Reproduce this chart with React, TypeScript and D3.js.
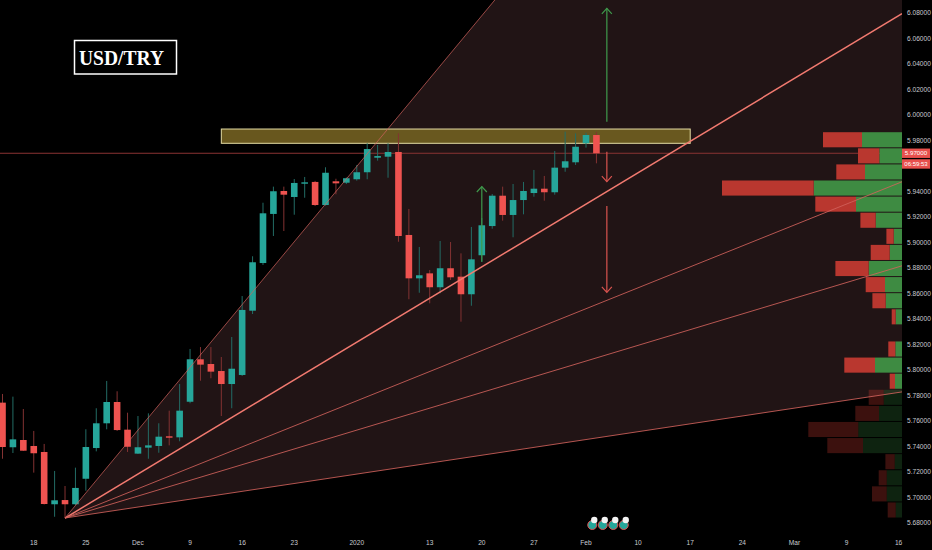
import React, { useEffect } from "react";
import * as d3 from "d3";

const W = 932;
const H = 550;
const PLOT_RIGHT = 902;
const PLOT_BOTTOM = 530;

// daily candles, one per trading day from Nov 13 2019 to Feb 4 2020
const opens = [5.7744, 5.7394, 5.7451, 5.7404, 5.7357, 5.6947, 5.698, 5.6947, 5.7147, 5.7388,
  5.7582, 5.7749, 5.7532, 5.7344, 5.7391, 5.7404, 5.748, 5.7472, 5.7751, 5.8084,
  5.8047, 5.7992, 5.789, 5.7961, 5.8465, 5.8839, 5.9224, 5.9404, 5.9357, 5.9461,
  5.9475, 5.9294, 5.948, 5.9469, 5.9496, 5.9551, 5.9665, 5.9673, 5.971, 5.9059,
  5.8719, 5.8758, 5.8649, 5.8798, 5.8732, 5.8594, 5.89, 5.9129, 5.9367, 5.9216,
  5.9333, 5.9388, 5.9422, 5.9394, 5.9587, 5.9629, 5.9778, 5.9843];
const highs = [5.7812, 5.7791, 5.7694, 5.7522, 5.742, 5.7208, 5.709, 5.7234, 5.7535, 5.77,
  5.7914, 5.7833, 5.7665, 5.7639, 5.766, 5.7582, 5.7681, 5.789, 5.8165, 5.818,
  5.818, 5.8102, 5.8259, 5.858, 5.8892, 5.9312, 5.9438, 5.9438, 5.9498, 5.9514,
  5.9483, 5.959, 5.95, 5.951, 5.9608, 5.9778, 5.9765, 5.9778, 5.9856, 5.9263,
  5.8965, 5.8784, 5.9012, 5.9004, 5.8915, 5.9122, 5.9192, 5.938, 5.9438, 5.9459,
  5.9475, 5.9569, 5.9522, 5.9718, 5.9869, 5.9856, 5.9861, 5.9867];
const lows = [5.7304, 5.7349, 5.7365, 5.7195, 5.6945, 5.6849, 5.6839, 5.6941, 5.7053, 5.7362,
  5.7535, 5.7522, 5.7357, 5.7341, 5.7304, 5.7351, 5.7409, 5.7441, 5.7739, 5.7916,
  5.7935, 5.7639, 5.77, 5.7953, 5.8439, 5.8824, 5.9051, 5.909, 5.9218, 5.9351,
  5.9286, 5.9289, 5.9378, 5.9459, 5.9485, 5.9496, 5.9642, 5.9508, 5.9006, 5.8555,
  5.8606, 5.8523, 5.8602, 5.8706, 5.8379, 5.8504, 5.8847, 5.9108, 5.9171, 5.9041,
  5.9221, 5.9359, 5.9328, 5.9375, 5.9555, 5.9608, 5.9744, 5.9621];
const closes = [5.7396, 5.7456, 5.7367, 5.7347, 5.6949, 5.6978, 5.6947, 5.7075, 5.7396, 5.7582,
  5.7749, 5.7529, 5.7398, 5.7394, 5.7409, 5.7477, 5.7469, 5.7681, 5.8084, 5.8042,
  5.7987, 5.789, 5.801, 5.8471, 5.8845, 5.9229, 5.9402, 5.9375, 5.9467, 5.9472,
  5.9294, 5.9547, 5.9464, 5.9504, 5.9551, 5.9733, 5.9678, 5.971, 5.9051, 5.8719,
  5.8743, 5.8649, 5.8798, 5.8727, 5.8594, 5.8868, 5.9135, 5.9367, 5.9216, 5.9333,
  5.9404, 5.9422, 5.9394, 5.9587, 5.9637, 5.9751, 5.9843, 5.97];

// time axis (bar index of each label)
const dateTickBars = [3, 8, 13, 18, 23, 28, 34, 41, 46, 51, 56, 61, 66, 71, 76, 81, 86];
const dateTickLabels = ["18", "25", "Dec", "9", "16", "23", "2020", "13", "20", "27", "Feb", "10", "17", "24", "Mar", "9", "16"];

const priceTicks = [5.68, 5.7, 5.72, 5.74, 5.76, 5.78, 5.8, 5.82, 5.84, 5.86, 5.88, 5.9, 5.92, 5.94, 5.96, 5.98, 6.0, 6.02, 6.04, 6.06, 6.08];

// visible range volume profile, top row first
const profileHigh = 5.9869;
const profileLow = 5.6839;
const profileUp = [40, 22.7, 37, 88.3, 46, 26.3, 8.3, 12.3, 33.3, 17, 16.3, 6.3, 0, 6.7, 27, 7, 18.3, 23, 43.7, 39, 7.3, 15.3, 15.3, 6.3];
const profileDown = [39, 21.3, 28.7, 91.7, 40.7, 15.3, 7.3, 19, 33.3, 19.3, 13.3, 4, 0, 7, 30.7, 5.3, 15, 23.7, 50, 35.7, 9.3, 8, 14.7, 8];
const profileBrightRows = 16;

// gann fan
const fanAnchorBar = 6;
const fanAnchorPrice = 5.6839;
const fanStep = 0.00985;
const fanRatios = [1, 2, 3, 4, 8];

// resistance zone
const zoneBars = [21, 66];
const zonePrices = [5.9778, 5.989];

const lastPrice = 5.97;
const countdown = "06:59:53";

// drawn arrows
const arrowBars = [46, 58, 58, 58];
const arrowFrom = [5.8849, 5.9947, 5.9712, 5.9286];
const arrowTo = [5.9439, 6.0837, 5.9477, 5.8609];
const arrowColors = ["#3f9a4c", "#3f9a4c", "#d9534f", "#d9534f"];

const x = d3.scaleLinear().domain([0, 86]).range([2.5, 898.6]);
const y = d3.scaleLinear().domain([5.68, 6.08]).range([523, 13]);
const vol = d3.scaleLinear().domain([0, 180]).range([0, 180]);

const UP = "#26a69a";
const DOWN = "#ef5350";
const FONT = "'Liberation Sans', Arial, sans-serif";

function fanPrice(bar: number, ratio: number) {
  return fanAnchorPrice + ((bar - fanAnchorBar) * fanStep) / ratio;
}

export default function App() {
  useEffect(() => {
    document.body.style.margin = "0";
    document.body.style.background = "#000";
  }, []);

  const rightBar = x.invert(PLOT_RIGHT);
  const ax = x(fanAnchorBar);
  const ay = y(fanAnchorPrice);
  const fillPts = [
    [ax, ay],
    [PLOT_RIGHT, y(fanPrice(rightBar, fanRatios[0]))],
    [PLOT_RIGHT, y(fanPrice(rightBar, fanRatios[fanRatios.length - 1]))],
  ];

  const pTop = y(profileHigh);
  const rowH = (y(profileLow) - pTop) / profileUp.length;
  const lastY = y(lastPrice);
  // price labels hidden behind the last-price / countdown badges
  const visibleTicks = priceTicks.filter((p) => y(p) < lastY - 8 || y(p) > lastY + 18);

  return (
    <svg width={W} height={H} style={{ position: "absolute", left: 0, top: 0, background: "#000" }}>
      <defs>
        <clipPath id="plot">
          <rect x={0} y={0} width={PLOT_RIGHT} height={PLOT_BOTTOM} />
        </clipPath>
      </defs>
      <rect x={0} y={0} width={W} height={H} fill="#000" />
      <g clipPath="url(#plot)">
        <polygon points={fillPts.map((p) => p.join(",")).join(" ")} fill="#211415" />

        {/* last price line */}
        <line x1={0} x2={PLOT_RIGHT} y1={lastY} y2={lastY} stroke="#8a3333" strokeWidth={1} />

        {/* zone */}
        <rect
          x={x(zoneBars[0])}
          y={y(zonePrices[1])}
          width={x(zoneBars[1]) - x(zoneBars[0])}
          height={y(zonePrices[0]) - y(zonePrices[1])}
          fill="#6e5c20"
          fillOpacity={0.95}
          stroke="#e3dba4"
          strokeWidth={1}
        />

        {/* candles */}
        {opens.map((o, i) => {
          const c = closes[i];
          const up = c >= o;
          const cx = x(i);
          const top = y(Math.max(o, c));
          const bot = y(Math.min(o, c));
          return (
            <g key={i}>
              <line x1={cx} x2={cx} y1={y(highs[i])} y2={y(lows[i])} stroke={up ? "#236c65" : "#833232"} strokeWidth={1} />
              <rect x={cx - 3.3} y={top} width={6.6} height={Math.max(1.2, bot - top)} fill={up ? UP : DOWN} />
            </g>
          );
        })}

        {/* volume profile */}
        {profileUp.map((u, i) => {
          const d = profileDown[i];
          const bright = i < profileBrightRows;
          const ry = pTop + i * rowH + 0.5;
          const gw = vol(u);
          const rw = vol(d);
          return (
            <g key={"vp" + i}>
              <rect x={PLOT_RIGHT - gw} y={ry} width={gw} height={rowH - 1} fill={bright ? "#3e8b42" : "rgba(50,130,60,0.27)"} />
              <rect x={PLOT_RIGHT - gw - rw} y={ry} width={rw} height={rowH - 1} fill={bright ? "#b9372f" : "rgba(200,55,45,0.3)"} />
            </g>
          );
        })}

        {/* fan lines */}
        {fanRatios.map((r, i) => (
          <line
            key={"fan" + r}
            x1={ax}
            y1={ay}
            x2={PLOT_RIGHT}
            y2={y(fanPrice(rightBar, r))}
            stroke={r === 2 ? "#f27a70" : "#d1625c"}
            strokeOpacity={r === 2 ? 1 : i === 0 ? 0.7 : 0.85}
            strokeWidth={r === 2 ? 1.5 : 1}
          />
        ))}

        {/* arrows */}
        {arrowBars.map((b, i) => {
          const ax2 = x(b);
          const y1 = y(arrowFrom[i]);
          const y2 = y(arrowTo[i]);
          const dir = y2 < y1 ? 1 : -1;
          return (
            <g key={"ar" + i} stroke={arrowColors[i]} strokeWidth={1.2} fill="none">
              <line x1={ax2} x2={ax2} y1={y1} y2={y2} />
              <polyline points={`${ax2 - 5},${y2 + dir * 5.5} ${ax2},${y2} ${ax2 + 5},${y2 + dir * 5.5}`} />
            </g>
          );
        })}

        {/* event markers */}
        {[0, 1, 2, 3].map((k) => (
          <g key={"ev" + k}>
            <circle cx={x(56.6) + k * 10.5} cy={525} r={4.5} fill="#26a69a" stroke="#e05050" strokeWidth={1} />
            <circle cx={x(56.6) + k * 10.5 + 2} cy={520} r={3.2} fill="#f4f4f4" />
          </g>
        ))}
      </g>

      {/* title */}
      <rect x={74.5} y={40.5} width={102} height={33.5} fill="none" stroke="#fff" strokeWidth={1.5} />
      <text x={79} y={65} fill="#fff" fontFamily="'Liberation Serif', 'Times New Roman', serif" fontWeight="bold" fontSize={22} textLength={85} lengthAdjust="spacingAndGlyphs">
        USD/TRY
      </text>

      {/* price axis */}
      {visibleTicks.map((p) => (
        <text key={"pt" + p} x={907} y={y(p) + 2.3} fill="#c9cbd1" fontFamily={FONT} fontSize={6.6}>
          {p.toFixed(5)}
        </text>
      ))}
      <rect x={PLOT_RIGHT} y={lastY - 4.7} width={28} height={9.4} fill="#e8504d" />
      <text x={916} y={lastY + 2.2} fill="#fff" fontFamily={FONT} fontSize={6.2} textAnchor="middle">
        {lastPrice.toFixed(5)}
      </text>
      <rect x={PLOT_RIGHT} y={lastY + 6} width={28} height={9.4} fill="#e8504d" />
      <text x={916} y={lastY + 13} fill="#fff" fontFamily={FONT} fontSize={6} textAnchor="middle">
        {countdown}
      </text>

      {/* time axis */}
      {dateTickBars.map((b, i) => (
        <text key={"dt" + i} x={x(b)} y={545} fill="#c9cbd1" fontFamily={FONT} fontSize={6.6} textAnchor="middle">
          {dateTickLabels[i]}
        </text>
      ))}
    </svg>
  );
}
